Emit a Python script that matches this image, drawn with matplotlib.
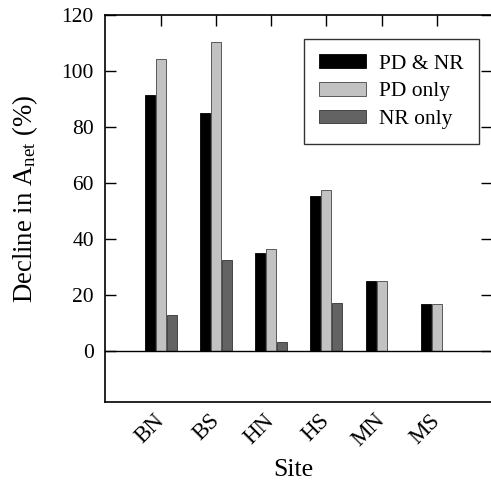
import matplotlib
matplotlib.use("Agg")
import matplotlib.pyplot as plt
import numpy as np

sites = ["BN", "BS", "HN", "HS", "MN", "MS"]
pd_nr = [91.5, 85.0, 35.1, 55.4, 25.0, 16.8]
pd_only = [104.4, 110.5, 36.5, 57.5, 25.0, 16.8]
nr_only = [12.9, 32.5, 3.1, 17.0, 0.0, 0.0]

plt.rcParams["font.family"] = ["Liberation Serif", "DejaVu Serif"]
plt.rcParams["mathtext.fontset"] = "custom"
plt.rcParams["mathtext.rm"] = "Liberation Serif"
plt.rcParams["mathtext.it"] = "Liberation Serif:italic"

fig = plt.figure(figsize=(4.91, 4.80), dpi=100)
ax = fig.add_axes([105 / 491, 78 / 480, 387 / 491, 387 / 480])

x = np.arange(len(sites))
w = 0.18
off = 0.2
ax.bar(x - off, pd_nr, w, color="black", edgecolor="black", linewidth=0.6, label="PD & NR")
ax.bar(x, pd_only, w, color="#c2c2c2", edgecolor="#444444", linewidth=0.6, label="PD only")
# sites without an NR-only value get no bar
nr_x = [xi + off for xi, v in zip(x, nr_only) if v > 0]
nr_v = [v for v in nr_only if v > 0]
ax.bar(nr_x, nr_v, w, color="#636363", edgecolor="#333333", linewidth=0.6, label="NR only")

ax.axhline(0, color="black", linewidth=1.0)

ax.set_xlim(-1.01, 6.0)
ax.set_ylim(-18.2, 120)
ax.set_yticks(np.arange(0, 121, 20))
ax.set_xticks(x)
ax.set_xticklabels(sites, rotation=45, ha="right", va="center",
                   rotation_mode="anchor", fontsize=16.5)
ax.tick_params(axis="x", bottom=False, top=True, direction="in", length=8,
               width=1.0, labelbottom=True, pad=11)
ax.tick_params(axis="y", left=True, right=True, direction="in", length=8,
               width=1.0, labelsize=15.5, pad=8)
for s in ax.spines.values():
    s.set_linewidth(1.2)

ax.set_ylabel("Decline in A$_{\\mathrm{net}}$ (%)", fontsize=19.3)
ax.yaxis.set_label_coords(-0.167, 0.525)
ax.set_xlabel("Site", fontsize=18.5)
ax.xaxis.set_label_coords(0.487, -0.148)

leg = ax.legend(loc="upper right", bbox_to_anchor=(0.966, 0.937), fontsize=15.5,
                frameon=True, fancybox=False, edgecolor="black",
                handlelength=2.2, handleheight=0.6, borderpad=0.7,
                labelspacing=0.38, handletextpad=0.6, borderaxespad=0)
leg.get_frame().set_linewidth(1.0)

fig.savefig("out.png", dpi=100)
